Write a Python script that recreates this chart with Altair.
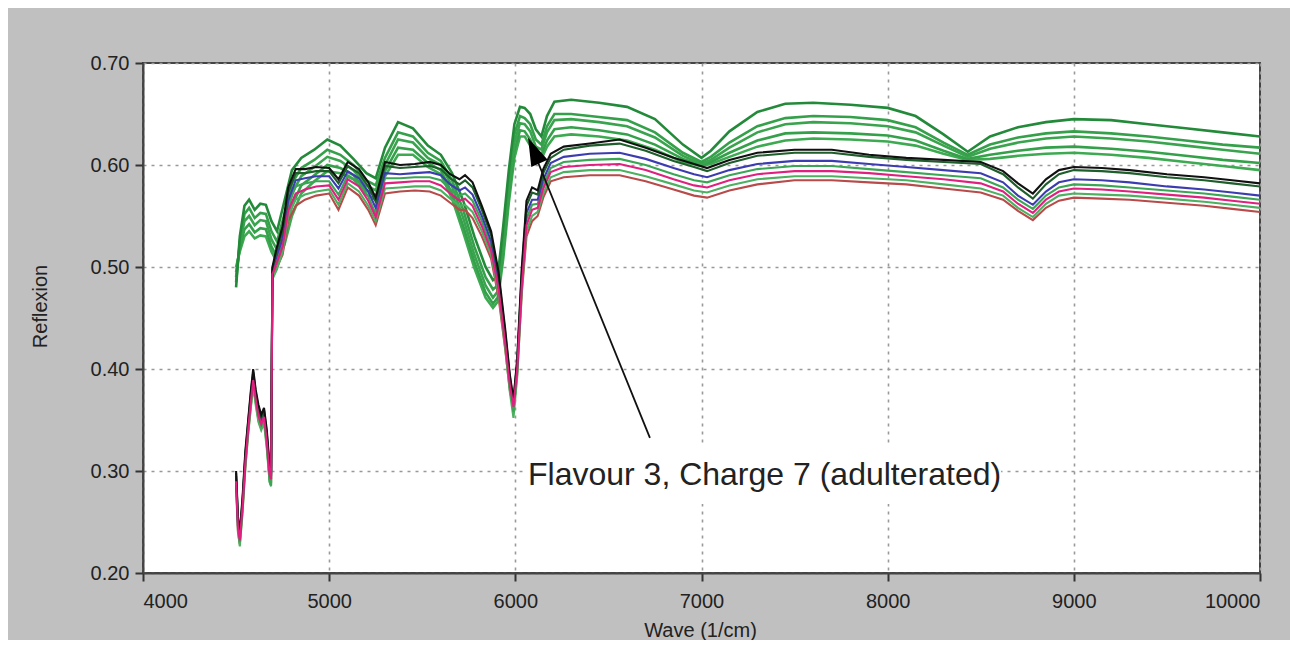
import altair as alt
import pandas as pd

# ---------------- data ----------------
wave_n = [4500, 4510, 4520, 4535, 4550, 4565, 4580, 4592, 4605, 4620,
          4635, 4650, 4665, 4680, 4688, 4695, 4720, 4750, 4780, 4820,
          4870, 4930, 5000, 5050, 5100, 5160, 5210, 5250, 5300, 5380,
          5460, 5540, 5600, 5650, 5700, 5730, 5770, 5820, 5870, 5910,
          5945, 5970, 5990, 6010, 6035, 6060, 6090, 6120, 6150, 6190,
          6260, 6400, 6560, 6700, 6850, 6960, 7030, 7150, 7300, 7500,
          7700, 7900, 8100, 8300, 8500, 8620, 8700, 8780, 8850, 8920,
          9000, 9150, 9300, 9500, 9700, 9850, 10000]

n_black = [0.300, 0.255, 0.240, 0.275, 0.320, 0.350, 0.380, 0.400, 0.380, 0.365,
           0.355, 0.362, 0.340, 0.305, 0.300, 0.500, 0.520, 0.540, 0.578, 0.596,
           0.596, 0.598, 0.597, 0.586, 0.603, 0.596, 0.583, 0.568, 0.603, 0.600,
           0.601, 0.603, 0.600, 0.591, 0.586, 0.590, 0.583, 0.560, 0.535, 0.495,
           0.440, 0.395, 0.370, 0.410, 0.500, 0.565, 0.578, 0.575, 0.596, 0.611,
           0.618, 0.621, 0.625, 0.617, 0.607, 0.601, 0.597, 0.605, 0.612, 0.615,
           0.615, 0.610, 0.607, 0.605, 0.603, 0.594, 0.582, 0.572, 0.586, 0.595,
           0.598, 0.597, 0.595, 0.591, 0.588, 0.585, 0.582]

n_darkgreen = [0.298, 0.252, 0.236, 0.272, 0.317, 0.348, 0.377, 0.397, 0.378, 0.362,
               0.352, 0.360, 0.337, 0.302, 0.297, 0.498, 0.517, 0.535, 0.573, 0.592,
               0.592, 0.594, 0.594, 0.582, 0.599, 0.592, 0.579, 0.564, 0.599, 0.597,
               0.598, 0.599, 0.596, 0.587, 0.581, 0.585, 0.578, 0.556, 0.531, 0.491,
               0.437, 0.393, 0.368, 0.407, 0.496, 0.560, 0.573, 0.571, 0.592, 0.607,
               0.615, 0.619, 0.621, 0.614, 0.604, 0.598, 0.594, 0.602, 0.609, 0.612,
               0.612, 0.608, 0.605, 0.603, 0.601, 0.591, 0.578, 0.567, 0.581, 0.591,
               0.595, 0.594, 0.592, 0.588, 0.585, 0.582, 0.579]

n_blue = [0.295, 0.250, 0.235, 0.270, 0.314, 0.345, 0.374, 0.394, 0.375, 0.359,
          0.350, 0.357, 0.334, 0.300, 0.295, 0.497, 0.512, 0.528, 0.565, 0.585,
          0.587, 0.589, 0.589, 0.577, 0.594, 0.587, 0.574, 0.558, 0.592, 0.591,
          0.592, 0.593, 0.590, 0.581, 0.575, 0.578, 0.571, 0.550, 0.525, 0.486,
          0.432, 0.390, 0.366, 0.404, 0.490, 0.553, 0.566, 0.566, 0.586, 0.602,
          0.608, 0.611, 0.612, 0.606, 0.597, 0.591, 0.588, 0.595, 0.601, 0.604,
          0.604, 0.601, 0.598, 0.595, 0.592, 0.583, 0.570, 0.561, 0.574, 0.583,
          0.586, 0.585, 0.583, 0.579, 0.576, 0.573, 0.570]

n_green_a = [0.292, 0.247, 0.230, 0.265, 0.310, 0.340, 0.370, 0.390, 0.372, 0.356,
             0.345, 0.352, 0.327, 0.290, 0.286, 0.495, 0.508, 0.524, 0.560, 0.579,
             0.582, 0.584, 0.584, 0.571, 0.590, 0.583, 0.569, 0.552, 0.587, 0.587,
             0.588, 0.588, 0.585, 0.576, 0.570, 0.572, 0.565, 0.545, 0.520, 0.482,
             0.428, 0.383, 0.358, 0.398, 0.485, 0.547, 0.561, 0.562, 0.581, 0.597,
             0.603, 0.605, 0.606, 0.600, 0.591, 0.585, 0.583, 0.590, 0.596, 0.599,
             0.599, 0.596, 0.593, 0.590, 0.587, 0.578, 0.566, 0.557, 0.570, 0.578,
             0.581, 0.580, 0.578, 0.575, 0.572, 0.569, 0.566]

n_magenta = [0.290, 0.245, 0.232, 0.266, 0.309, 0.341, 0.369, 0.389, 0.371, 0.354,
             0.346, 0.353, 0.329, 0.296, 0.292, 0.493, 0.505, 0.520, 0.555, 0.572,
             0.576, 0.579, 0.580, 0.566, 0.586, 0.579, 0.565, 0.549, 0.582, 0.583,
             0.584, 0.584, 0.580, 0.572, 0.565, 0.567, 0.560, 0.540, 0.516, 0.478,
             0.426, 0.385, 0.363, 0.400, 0.482, 0.541, 0.556, 0.558, 0.577, 0.593,
             0.598, 0.600, 0.601, 0.595, 0.586, 0.580, 0.578, 0.585, 0.591, 0.594,
             0.594, 0.592, 0.589, 0.586, 0.582, 0.574, 0.562, 0.553, 0.566, 0.574,
             0.577, 0.576, 0.574, 0.571, 0.568, 0.565, 0.562]

n_green_b = [0.288, 0.242, 0.226, 0.260, 0.303, 0.336, 0.363, 0.383, 0.365, 0.348,
             0.340, 0.347, 0.322, 0.289, 0.285, 0.488, 0.498, 0.515, 0.550, 0.566,
             0.571, 0.574, 0.576, 0.561, 0.582, 0.574, 0.560, 0.545, 0.577, 0.578,
             0.579, 0.579, 0.575, 0.567, 0.560, 0.561, 0.554, 0.535, 0.512, 0.474,
             0.422, 0.378, 0.352, 0.392, 0.478, 0.535, 0.550, 0.554, 0.572, 0.588,
             0.593, 0.595, 0.595, 0.589, 0.581, 0.575, 0.573, 0.580, 0.586, 0.589,
             0.589, 0.587, 0.585, 0.581, 0.577, 0.570, 0.558, 0.549, 0.562, 0.570,
             0.572, 0.571, 0.570, 0.567, 0.564, 0.561, 0.558]

n_red = [0.285, 0.240, 0.228, 0.262, 0.305, 0.338, 0.365, 0.385, 0.368, 0.350,
         0.342, 0.350, 0.325, 0.292, 0.288, 0.490, 0.500, 0.512, 0.545, 0.560,
         0.566, 0.570, 0.572, 0.556, 0.578, 0.570, 0.556, 0.541, 0.572, 0.574,
         0.575, 0.574, 0.570, 0.563, 0.556, 0.556, 0.548, 0.530, 0.508, 0.470,
         0.420, 0.380, 0.360, 0.395, 0.475, 0.530, 0.545, 0.550, 0.568, 0.584,
         0.588, 0.590, 0.590, 0.584, 0.576, 0.570, 0.568, 0.575, 0.581, 0.585,
         0.585, 0.583, 0.581, 0.577, 0.573, 0.566, 0.555, 0.546, 0.558, 0.565,
         0.568, 0.567, 0.566, 0.563, 0.560, 0.557, 0.554]

wave_a = [4500, 4520, 4545, 4570, 4600, 4630, 4660, 4690, 4720, 4760,
          4800, 4850, 4920, 4990, 5060, 5130, 5200, 5250, 5300, 5370,
          5450, 5530, 5600, 5660, 5720, 5780, 5840, 5880, 5905, 5935,
          5965, 5995, 6025, 6050, 6080, 6110, 6140, 6170, 6210, 6300,
          6450, 6600, 6750, 6900, 7000, 7050, 7150, 7300, 7450, 7600,
          7800, 8000, 8150, 8300, 8430, 8550, 8700, 8850, 9000, 9200,
          9400, 9600, 9800, 10000]

a_1 = [0.480, 0.530, 0.560, 0.566, 0.556, 0.562, 0.561, 0.545, 0.535, 0.565,
       0.595, 0.607, 0.615, 0.625, 0.619, 0.606, 0.592, 0.587, 0.617, 0.642,
       0.636, 0.619, 0.610, 0.592, 0.565, 0.530, 0.500, 0.487, 0.490, 0.540,
       0.595, 0.640, 0.657, 0.656, 0.650, 0.635, 0.628, 0.648, 0.662, 0.664,
       0.661, 0.657, 0.645, 0.620, 0.607, 0.614, 0.633, 0.652, 0.660, 0.661,
       0.659, 0.656, 0.648, 0.630, 0.613, 0.628, 0.637, 0.642, 0.645, 0.644,
       0.640, 0.636, 0.632, 0.628]

a_2 = [0.485, 0.525, 0.552, 0.558, 0.548, 0.553, 0.552, 0.535, 0.525, 0.552,
       0.582, 0.597, 0.605, 0.615, 0.610, 0.600, 0.585, 0.580, 0.607, 0.632,
       0.628, 0.612, 0.604, 0.585, 0.556, 0.520, 0.490, 0.478, 0.482, 0.530,
       0.585, 0.630, 0.648, 0.646, 0.640, 0.625, 0.620, 0.638, 0.650, 0.650,
       0.647, 0.644, 0.632, 0.612, 0.603, 0.608, 0.622, 0.638, 0.646, 0.648,
       0.647, 0.644, 0.637, 0.622, 0.610, 0.620, 0.627, 0.631, 0.633, 0.631,
       0.628, 0.624, 0.620, 0.617]

a_3 = [0.490, 0.522, 0.545, 0.550, 0.541, 0.546, 0.545, 0.527, 0.517, 0.542,
       0.572, 0.589, 0.598, 0.608, 0.604, 0.595, 0.580, 0.575, 0.600, 0.625,
       0.622, 0.607, 0.600, 0.579, 0.548, 0.512, 0.482, 0.470, 0.476, 0.522,
       0.578, 0.622, 0.641, 0.640, 0.633, 0.618, 0.615, 0.632, 0.644, 0.645,
       0.642, 0.638, 0.627, 0.609, 0.601, 0.605, 0.617, 0.632, 0.640, 0.642,
       0.641, 0.638, 0.632, 0.619, 0.608, 0.616, 0.622, 0.626, 0.628, 0.626,
       0.623, 0.619, 0.615, 0.611]

a_4 = [0.495, 0.518, 0.537, 0.542, 0.534, 0.538, 0.537, 0.520, 0.510, 0.532,
       0.560, 0.580, 0.590, 0.600, 0.597, 0.590, 0.575, 0.570, 0.594, 0.617,
       0.615, 0.602, 0.595, 0.572, 0.540, 0.505, 0.475, 0.464, 0.470, 0.515,
       0.570, 0.614, 0.634, 0.633, 0.625, 0.611, 0.610, 0.624, 0.635, 0.637,
       0.634, 0.630, 0.620, 0.606, 0.600, 0.603, 0.612, 0.624, 0.631, 0.632,
       0.631, 0.629, 0.624, 0.614, 0.606, 0.610, 0.614, 0.617, 0.618, 0.616,
       0.613, 0.609, 0.605, 0.602]

a_5 = [0.500, 0.515, 0.530, 0.535, 0.528, 0.531, 0.530, 0.515, 0.505, 0.522,
       0.550, 0.572, 0.584, 0.594, 0.592, 0.586, 0.571, 0.566, 0.589, 0.610,
       0.610, 0.598, 0.591, 0.567, 0.534, 0.499, 0.470, 0.460, 0.466, 0.508,
       0.563, 0.607, 0.628, 0.628, 0.619, 0.606, 0.606, 0.618, 0.628, 0.630,
       0.628, 0.624, 0.615, 0.603, 0.599, 0.601, 0.608, 0.618, 0.624, 0.626,
       0.625, 0.623, 0.619, 0.611, 0.605, 0.606, 0.609, 0.611, 0.612, 0.610,
       0.607, 0.603, 0.599, 0.595]

x_ticks = [4000, 5000, 6000, 7000, 8000, 9000, 10000]
y_ticks = [0.20, 0.30, 0.40, 0.50, 0.60, 0.70]
annotation = "Flavour 3, Charge 7 (adulterated)"

# ---------------- build tables ----------------
normal_series = [("N7", n_red), ("N6", n_green_b), ("N4", n_green_a),
                 ("N3", n_blue), ("N2", n_darkgreen), ("N1", n_black), ("N5", n_magenta)]
adult_series = [("A5", a_5), ("A4", a_4), ("A3", a_3), ("A2", a_2), ("A1", a_1)]

rows = []
for name, vals in adult_series:
    for w, v in zip(wave_a, vals):
        rows.append({"wave": w, "value": v, "series": name, "grp": "adult"})
for name, vals in normal_series:
    for w, v in zip(wave_n, vals):
        rows.append({"wave": w, "value": v, "series": name, "grp": "normal"})
df = pd.DataFrame(rows)

domain = ["A1", "A2", "A3", "A4", "A5", "N1", "N2", "N3", "N4", "N5", "N6", "N7"]
colors = ["#238a3a", "#35a04a", "#3aa34e", "#34a04a", "#3daa52",
          "#111111", "#1d5e2a", "#3c3cb0", "#3aa655", "#e0207f", "#4cb060", "#b84a4a"]

FONT = "Liberation Sans"
x_scale = alt.Scale(domain=[4000, 10000], nice=False, zero=False)
y_scale = alt.Scale(domain=[0.2, 0.7], nice=False, zero=False)

x_axis = alt.Axis(values=x_ticks, format="d", title="Wave (1/cm)",
                  labelFontSize=20, labelColor="#222", labelPadding=10,
                  labelFont=FONT, titleFont=FONT,
                  titleFontSize=20, titleFontWeight="normal", titleColor="#222",
                  titleX=557, titleY=57, titleBaseline="middle",
                  tickSize=8, tickWidth=2, tickColor="#333",
                  domainColor="#444", domainWidth=2,
                  grid=True, gridColor="#999", gridDash=[3, 5], gridWidth=1.6)
y_axis = alt.Axis(values=y_ticks, format=".2f", title="Reflexion",
                  labelFontSize=20, labelColor="#222", labelPadding=6,
                  labelFont=FONT, titleFont=FONT,
                  titleFontSize=20, titleFontWeight="normal", titleColor="#222",
                  titleX=-103, titleY=243, titleAngle=270, titleAlign="center",
                  titleBaseline="middle",
                  tickSize=8, tickWidth=2, tickColor="#333",
                  domainColor="#444", domainWidth=2,
                  grid=True, gridColor="#999", gridDash=[3, 5], gridWidth=1.6)

color = alt.Color("series:N", scale=alt.Scale(domain=domain, range=colors), legend=None)

base = alt.Chart(df)

adult = base.transform_filter(alt.datum.grp == "adult").mark_line(strokeWidth=2.6).encode(
    x=alt.X("wave:Q", scale=x_scale, axis=x_axis),
    y=alt.Y("value:Q", scale=y_scale, axis=y_axis),
    color=color,
    detail="series:N",
    order="wave:Q",
)
normal = base.transform_filter(alt.datum.grp == "normal").mark_line(strokeWidth=2.1).encode(
    x=alt.X("wave:Q", scale=x_scale),
    y=alt.Y("value:Q", scale=y_scale),
    color=color,
    detail="series:N",
    order="wave:Q",
)

# annotation box + text
box_df = pd.DataFrame({"x": [6047], "x2": [8609], "y": [0.2676], "y2": [0.3235]})
box = alt.Chart(box_df).mark_rect(color="white").encode(
    x=alt.X("x:Q", scale=x_scale), x2="x2:Q",
    y=alt.Y("y:Q", scale=y_scale), y2="y2:Q")

txt_df = pd.DataFrame({"x": [6068], "y": [0.2865], "t": [annotation]})
txt = alt.Chart(txt_df).mark_text(align="left", baseline="alphabetic", fontSize=32,
                                  font=FONT, color="#222").encode(
    x=alt.X("x:Q", scale=x_scale), y=alt.Y("y:Q", scale=y_scale), text="t:N")

arrow_df = pd.DataFrame({"x": [6723, 6095], "y": [0.3324, 0.6147], "i": [0, 1]})
shaft = alt.Chart(arrow_df).mark_line(color="#111", strokeWidth=1.8).encode(
    x=alt.X("x:Q", scale=x_scale), y=alt.Y("y:Q", scale=y_scale), order="i:Q")

head_df = pd.DataFrame({"x": [6099], "y": [0.6142]})
head = alt.Chart(head_df).mark_point(shape="M0,-1L0.64,1L-0.64,1Z", size=784, angle=336,
                                     filled=True, color="#000", opacity=1).encode(
    x=alt.X("x:Q", scale=x_scale), y=alt.Y("y:Q", scale=y_scale))

chart = alt.layer(box, txt, adult, normal, shaft, head).properties(
    width=1117, height=510,
    autosize=alt.AutoSizeParams(type="none"),
    padding={"left": 135, "top": 55, "right": 30, "bottom": 67},
    background="#c0c0c0",
).configure_view(stroke="#444", strokeWidth=2, fill="white")

chart.save("out.html", embed_options={"renderer": "svg", "actions": False})
